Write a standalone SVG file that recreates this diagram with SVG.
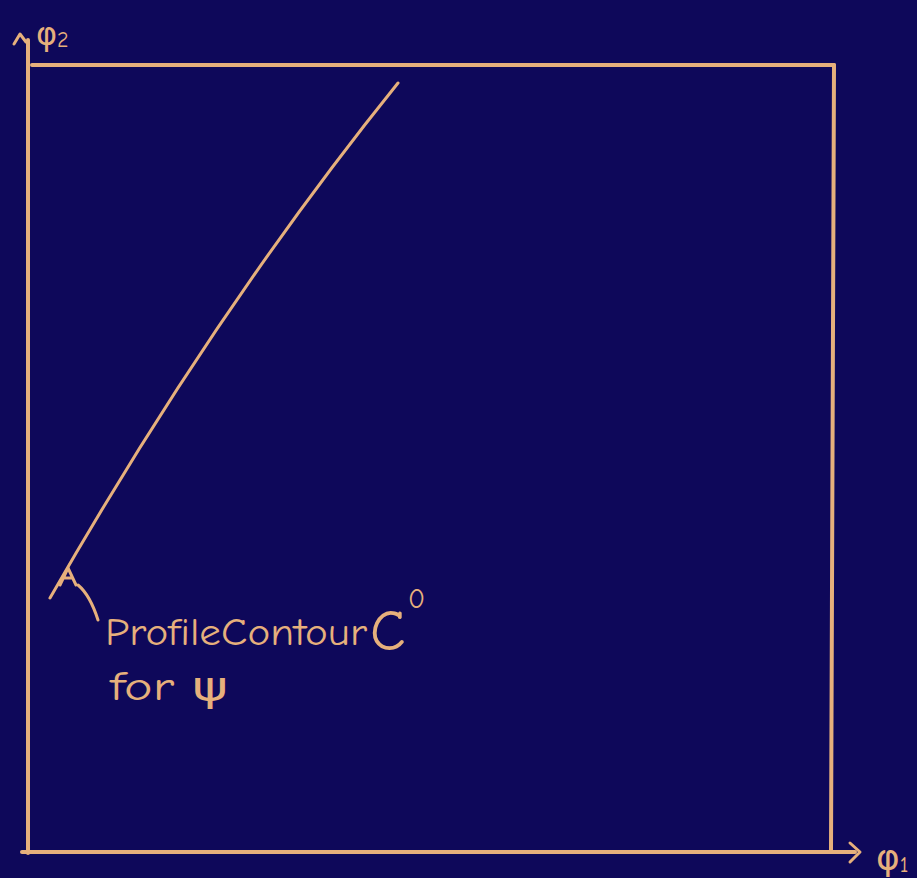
<svg xmlns="http://www.w3.org/2000/svg" width="917" height="878" viewBox="0 0 917 878">
<style>
.ln{fill:none;stroke:#e6b07c;stroke-width:4;stroke-linecap:round;stroke-linejoin:round}
.thin{fill:none;stroke:#e6b07c;stroke-width:3;stroke-linecap:round;stroke-linejoin:round}
.tx{fill:#e6b07c;font-family:"Comic Neue","DejaVu Sans","Liberation Sans",sans-serif}
</style>
<rect width="917" height="878" fill="#0e085a"/>
<g id="axes">
<path class="ln" d="M28,40 L28,853"/>
<path class="ln" d="M22,852 L855,852"/>
<path class="ln" d="M32,65 L834,65"/>
<path class="ln" d="M834,65 L831,850"/>
<path class="thin" d="M850,843 L860,852 L850,862"/>
<path class="thin" d="M14,44 L20,34 L26,42"/>
</g>
<g id="labels">
<text class="tx" x="36" y="45" font-size="32">φ<tspan font-size="22" dy="2">2</tspan></text>
<text class="tx" x="876" y="870" font-size="36">φ<tspan font-size="22" dy="2">1</tspan></text>
</g>
<g id="curve">
<path class="thin" d="M50,598 Q 215,310 398,83"/>
<path class="thin" d="M60,585 L68,568 L76,585 M64,578 L72,578"/>
<path class="thin" d="M78,585 Q 90,595 98,620"/>
</g>
<g id="note">
<text class="tx" x="105" y="645" font-size="38" textLength="262" lengthAdjust="spacingAndGlyphs">ProfileContour</text>
<text class="tx" x="370" y="650" font-size="58">C</text>
<text class="tx" x="408" y="608" font-size="28">0</text>
<text class="tx" x="110" y="700" font-size="40" textLength="118" lengthAdjust="spacingAndGlyphs">for ψ</text>
</g>
</svg>
